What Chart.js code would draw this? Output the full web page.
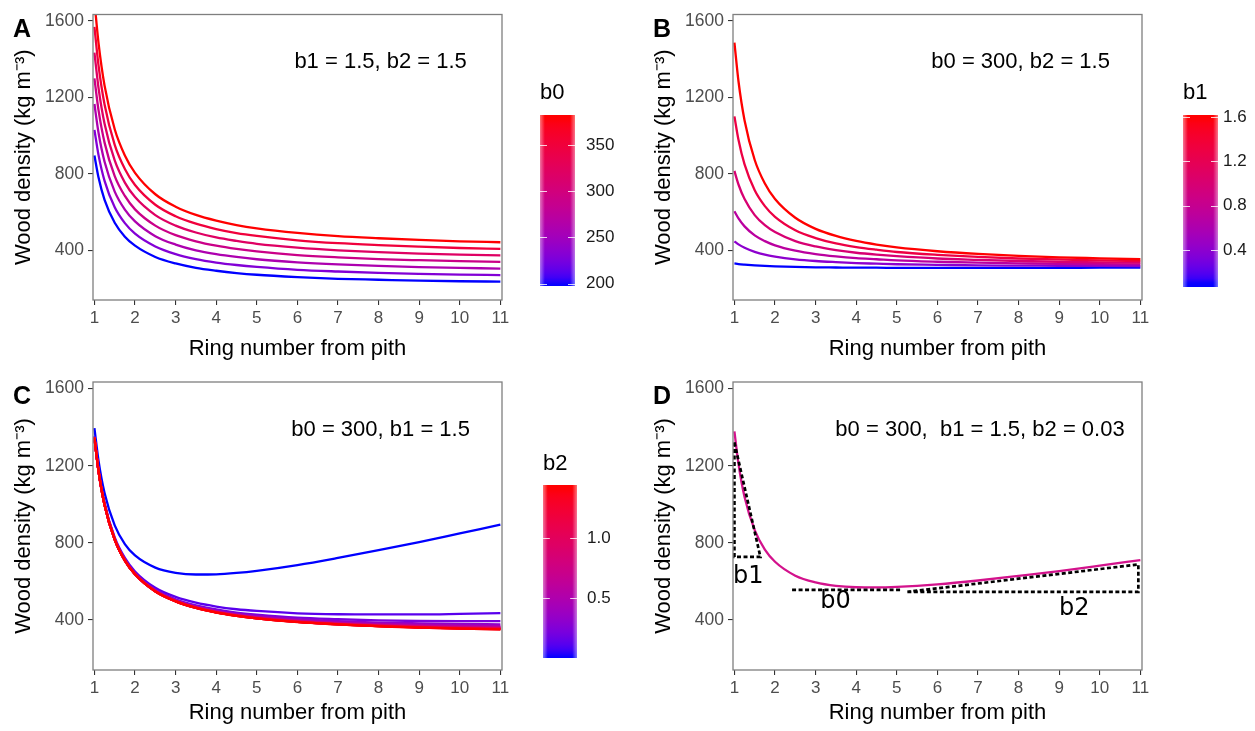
<!DOCTYPE html>
<html><head><meta charset="utf-8">
<script src="https://cdn.jsdelivr.net/npm/chart.js@4.4.0/dist/chart.umd.min.js"></script>
<style>
html,body{margin:0;padding:0;background:#fff;width:1255px;height:731px;overflow:hidden}
.p{position:absolute}
canvas{display:block}
</style></head><body>
<div class="p" style="left:0;top:0"><canvas id="cA" width="627" height="365"></canvas></div>
<div class="p" style="left:627px;top:0"><canvas id="cB" width="628" height="365"></canvas></div>
<div class="p" style="left:0;top:365px"><canvas id="cC" width="627" height="366"></canvas></div>
<div class="p" style="left:627px;top:365px"><canvas id="cD" width="628" height="366"></canvas></div>
<script>
// ---------- data ----------
const ringX = [1, 1.1, 1.25, 1.5, 1.75, 2, 2.5, 3, 3.5, 4, 4.5, 5, 6, 7, 8, 9, 10, 11];
const xTickValues = [1, 2, 3, 4, 5, 6, 7, 8, 9, 10, 11];
const yTickValues = [400, 800, 1200, 1600];

// Panel A: b1 = 1.5, b2 = 1.5, varying b0
const b0Levels = [200, 230, 260, 290, 320, 350, 380];
const densA_200 = [897, 783, 665, 545, 472, 425, 366, 332, 309, 294, 282, 273, 261, 252, 247, 242, 239, 237];
const densA_230 = [1031, 900, 764, 626, 543, 488, 421, 381, 355, 337, 324, 314, 299, 290, 283, 278, 274, 271];
const densA_260 = [1166, 1017, 864, 708, 614, 552, 475, 431, 401, 381, 366, 354, 338, 327, 319, 313, 309, 305];
const densA_290 = [1300, 1135, 964, 789, 685, 615, 530, 480, 448, 425, 408, 395, 376, 364, 355, 349, 344, 340];
const densA_320 = [1435, 1252, 1063, 871, 755, 679, 585, 530, 494, 468, 450, 435, 415, 401, 391, 384, 378, 374];
const densA_350 = [1569, 1369, 1163, 952, 826, 742, 639, 579, 540, 512, 491, 476, 453, 438, 428, 420, 413, 408];
const densA_380 = [1704, 1487, 1262, 1034, 897, 806, 694, 629, 586, 556, 533, 516, 492, 475, 464, 455, 448, 443];

// Panel B: b0 = 300, b2 = 1.5, varying b1
const b1Levels = [0.1, 0.4, 0.7, 1.0, 1.3, 1.6];
const densB_01 = [332, 329, 326, 322, 319, 317, 314, 312, 311, 310, 310, 309, 309, 309, 309, 309, 310, 310];
const densB_04 = [448, 432, 414, 393, 378, 368, 354, 345, 339, 334, 331, 328, 325, 322, 321, 320, 319, 318];
const densB_07 = [605, 568, 526, 479, 449, 427, 399, 381, 369, 360, 354, 348, 341, 336, 333, 330, 328, 327];
const densB_10 = [816, 745, 669, 585, 532, 496, 449, 421, 402, 388, 378, 370, 358, 351, 345, 341, 338, 336];
const densB_13 = [1101, 979, 850, 715, 632, 576, 506, 465, 437, 418, 404, 392, 377, 366, 358, 353, 348, 345];
const densB_16 = [1487, 1285, 1080, 873, 750, 669, 571, 513, 476, 450, 431, 416, 396, 382, 372, 364, 359, 354];

// Panel C: b0 = 300, b1 = 1.5, varying b2
const b2Levels = [0.02, 0.12, 0.22, 0.32, 0.42, 0.52, 0.62, 0.72, 0.82, 0.92, 1.02, 1.12, 1.22, 1.32, 1.42];
const densC_002 = [1395, 1228, 1059, 891, 794, 735, 672, 645, 636, 637, 644, 655, 685, 722, 762, 804, 849, 894];
const densC_012 = [1353, 1182, 1006, 828, 722, 652, 567, 520, 490, 470, 456, 447, 435, 430, 429, 429, 432, 436];
const densC_022 = [1349, 1178, 1002, 822, 715, 644, 558, 508, 476, 455, 439, 428, 412, 404, 398, 395, 394, 394];
const densC_032 = [1348, 1176, 1000, 820, 712, 641, 554, 504, 471, 449, 433, 421, 404, 394, 387, 383, 380, 378];
const densC_042 = [1347, 1176, 999, 819, 711, 640, 553, 502, 469, 446, 429, 417, 400, 388, 381, 376, 372, 370];
const densC_052 = [1346, 1175, 998, 818, 710, 639, 551, 500, 467, 444, 427, 415, 397, 385, 377, 372, 368, 365];
const densC_062 = [1346, 1175, 998, 818, 710, 638, 551, 499, 466, 443, 426, 413, 395, 383, 375, 369, 365, 362];
const densC_072 = [1346, 1175, 998, 818, 709, 638, 550, 499, 465, 442, 425, 412, 394, 381, 373, 367, 362, 359];
const densC_082 = [1346, 1174, 998, 817, 709, 638, 550, 498, 465, 441, 424, 411, 393, 380, 372, 365, 361, 357];
const densC_092 = [1346, 1174, 997, 817, 709, 637, 549, 498, 464, 441, 424, 410, 392, 379, 371, 364, 359, 356];
const densC_102 = [1346, 1174, 997, 817, 709, 637, 549, 498, 464, 440, 423, 410, 391, 379, 370, 363, 358, 355];
const densC_112 = [1345, 1174, 997, 817, 708, 637, 549, 497, 464, 440, 423, 409, 391, 378, 369, 362, 357, 354];
const densC_122 = [1345, 1174, 997, 817, 708, 637, 549, 497, 463, 440, 422, 409, 390, 377, 368, 362, 357, 353];
const densC_132 = [1345, 1174, 997, 817, 708, 637, 548, 497, 463, 440, 422, 409, 390, 377, 368, 361, 356, 352];
const densC_142 = [1345, 1174, 997, 817, 708, 637, 548, 497, 463, 439, 422, 409, 389, 377, 367, 361, 356, 352];

// Panel D: b0 = 300, b1 = 1.5, b2 = 0.03
const densD = [1378, 1210, 1038, 866, 765, 702, 630, 595, 577, 570, 569, 572, 585, 605, 629, 654, 682, 711];
const guideB1 = [[1, 1320], [1, 727], [1.64, 727], [1, 1320]];
const guideB0 = [[2.42, 556], [5.1, 556]];
const guideB2 = [[5.26, 546], [10.95, 546], [10.95, 688], [5.26, 546]];
const guideLabels = [['b1', 1.34, 625], ['b0', 3.49, 495], ['b2', 9.37, 457]];

// colour-bar ticks
const cbTicksA = [200, 250, 300, 350];
const cbTicksB = [0.4, 0.8, 1.2, 1.6];
const cbTicksC = [0.5, 1.0];

// ---------- helpers ----------
const FONT = '"Liberation Sans", Arial, Helvetica, sans-serif';
function toLin(c){c/=255;return c<=0.04045?c/12.92:Math.pow((c+0.055)/1.055,2.4);}
function fromLin(v){v=Math.max(0,Math.min(1,v));return 255*(v<=0.0031308?12.92*v:1.055*Math.pow(v,1/2.4)-0.055);}
function rgb2lab(c){const R=toLin(c[0]),G=toLin(c[1]),B=toLin(c[2]);
  const X=(0.4124*R+0.3576*G+0.1805*B)/0.95047,Y=0.2126*R+0.7152*G+0.0722*B,Z=(0.0193*R+0.1192*G+0.9505*B)/1.08883;
  const f=t=>t>0.008856?Math.cbrt(t):7.787*t+16/116;
  const fx=f(X),fy=f(Y),fz=f(Z);return [116*fy-16,500*(fx-fy),200*(fy-fz)];}
function lab2rgb(l){const fy=(l[0]+16)/116,fx=fy+l[1]/500,fz=fy-l[2]/200;
  const fi=t=>t>0.206893?t*t*t:(t-16/116)/7.787;
  const X=fi(fx)*0.95047,Y=fi(fy),Z=fi(fz)*1.08883;
  const R=3.2406*X-1.5372*Y-0.4986*Z,G=-0.9689*X+1.8758*Y+0.0415*Z,B=0.0557*X-0.2040*Y+1.0570*Z;
  return [fromLin(R),fromLin(G),fromLin(B)].map(Math.round);}
const LOW=rgb2lab([0,0,255]),HIGH=rgb2lab([255,0,0]);
function gradColour(t){t=Math.max(0,Math.min(1,t));const c=lab2rgb(LOW.map((v,i)=>v+(HIGH[i]-v)*t));return 'rgb('+c.join(',')+')';}

const decor = {
  id:'decor',
  afterDraw(chart, args, o){
    const ctx=chart.ctx, ca=chart.chartArea, sx=chart.scales.x, sy=chart.scales.y;
    ctx.save();
    ctx.strokeStyle='#7f7f7f'; ctx.lineWidth=1.3;
    ctx.strokeRect(ca.left, ca.top, ca.right-ca.left, ca.bottom-ca.top);
    ctx.fillStyle='#000'; ctx.font='bold 25px '+FONT; ctx.textAlign='left'; ctx.textBaseline='alphabetic';
    ctx.fillText(o.letter, ca.left-80, ca.top+22);
    ctx.font='22px '+FONT; ctx.textAlign='center'; ctx.textBaseline='middle';
    ctx.fillText(o.note, sx.getPixelForValue(o.noteAt[0]), sy.getPixelForValue(o.noteAt[1]));
    if (o.guideLabels){
      ctx.font='24px "DejaVu Sans", sans-serif';
      o.guideLabels.forEach(g=>ctx.fillText(g[0], sx.getPixelForValue(g[1]), sy.getPixelForValue(g[2])));
    }
    const cb=o.colorbar;
    if (cb){
      const pos=v=>cb.y+cb.h-(v-cb.lo)/(cb.hi-cb.lo)*cb.h;
      const g=ctx.createLinearGradient(0,cb.y+cb.h,0,cb.y);
      for(let i=0;i<=40;i++){const v=cb.lo+(cb.hi-cb.lo)*i/40;g.addColorStop(i/40,gradColour((v-cb.dmin)/(cb.dmax-cb.dmin)));}
      ctx.fillStyle=g; ctx.fillRect(cb.x,cb.y,cb.w,cb.h);
      const e=ctx.createLinearGradient(cb.x,0,cb.x+cb.w,0);
      e.addColorStop(0,'rgba(255,255,255,0.45)');e.addColorStop(0.14,'rgba(255,255,255,0)');
      e.addColorStop(0.86,'rgba(255,255,255,0)');e.addColorStop(1,'rgba(255,255,255,0.45)');
      ctx.fillStyle=e; ctx.fillRect(cb.x,cb.y,cb.w,cb.h);
      ctx.strokeStyle='rgba(255,255,255,0.8)'; ctx.lineWidth=1;
      ctx.font='17px '+FONT; ctx.textAlign='left'; ctx.textBaseline='middle';
      cb.ticks.forEach(t=>{
        const y=Math.round(pos(t))+0.5;
        ctx.beginPath();ctx.moveTo(cb.x,y);ctx.lineTo(cb.x+cb.w/5,y);ctx.moveTo(cb.x+cb.w*4/5,y);ctx.lineTo(cb.x+cb.w,y);ctx.stroke();
        ctx.fillStyle='#1a1a1a'; ctx.fillText(cb.fmt(t), cb.labelX, pos(t));
      });
      ctx.fillStyle='#000'; ctx.font='22px '+FONT;
      ctx.fillText(cb.title, cb.x, cb.titleY);
    }
    ctx.restore();
  }
};

function buildPanel(id, P){
  const n=P.series.length;
  const datasets=P.series.map((s,i)=>({
    data: ringX.map((x,j)=>({x:x,y:s[j]})),
    borderColor: P.colours[i], borderWidth: 2.3, pointRadius: 0, fill:false,
    cubicInterpolationMode:'monotone', order: 10+n-i
  }));
  (P.guides||[]).forEach(gd=>datasets.push({
    data: gd.map(p=>({x:p[0],y:p[1]})), borderColor:'#000', borderWidth:2.7, borderDash:[4,2.5],
    pointRadius:0, tension:0, fill:false, order:0
  }));
  const L=P.layout;
  new Chart(document.getElementById(id),{
    type:'line', data:{datasets},
    plugins:[decor],
    options:{
      responsive:false, animation:false, devicePixelRatio:1,
      layout:{padding:{left:L.padLeft,right:L.padRight,top:L.padTop,bottom:0}},
      plugins:{legend:{display:false},tooltip:{enabled:false},
        decor:{letter:P.letter,note:P.note,noteAt:P.noteAt,colorbar:P.colorbar,guideLabels:P.guideLabels}},
      scales:{
        x:{type:'linear',min:0.965,max:11.04,
          afterBuildTicks:s=>{s.ticks=xTickValues.map(v=>({value:v}));},
          afterFit:s=>{s.height=L.xHeight;},
          ticks:{autoSkip:false,maxRotation:0,padding:3,color:'#4d4d4d',font:{family:FONT,size:17},callback:v=>String(v)},
          grid:{drawOnChartArea:false,drawTicks:true,tickLength:5,color:'#333333',lineWidth:1.1},
          border:{display:false},
          title:{display:true,text:'Ring number from pith',color:'#000',font:{family:FONT,size:22},padding:{top:0,bottom:L.xTitlePad}}
        },
        y:{type:'linear',min:141,max:1634,
          afterBuildTicks:s=>{s.ticks=yTickValues.map(v=>({value:v}));},
          afterFit:s=>{s.width=93;},
          ticks:{autoSkip:false,padding:4,color:'#4d4d4d',font:{family:FONT,size:17.5},callback:v=>String(v)},
          grid:{drawOnChartArea:false,drawTicks:true,tickLength:5,color:'#333333',lineWidth:1.1},
          border:{display:false},
          title:{display:true,text:'Wood density (kg m\u207B\u00B3)',color:'#000',font:{family:FONT,size:22},padding:{top:10.8,bottom:0}}
        }
      }
    }
  });
}

const layoutTopLeft={padLeft:0,padRight:125,padTop:11,xHeight:65,xTitlePad:2.8};
const layoutTopRight={padLeft:13,padRight:113,padTop:11,xHeight:65,xTitlePad:2.8};
const layoutBotLeft={padLeft:0,padRight:125,padTop:17,xHeight:61,xTitlePad:4.8};
const layoutBotRight={padLeft:13,padRight:113,padTop:17,xHeight:61,xTitlePad:4.8};

buildPanel('cA',{
  series:[densA_200,densA_230,densA_260,densA_290,densA_320,densA_350,densA_380],
  colours:b0Levels.map(v=>gradColour((v-200)/180)),
  letter:'A', note:'b1 = 1.5, b2 = 1.5', noteAt:[8.05,1385], layout:layoutTopLeft,
  colorbar:{x:540,y:115,w:35,h:171,lo:197.3,hi:382.5,dmin:200,dmax:380,ticks:cbTicksA,fmt:v=>String(v),labelX:586,title:'b0',titleY:93}
});
buildPanel('cB',{
  series:[densB_01,densB_04,densB_07,densB_10,densB_13,densB_16],
  colours:b1Levels.map(v=>gradColour((v-0.1)/1.5)),
  letter:'B', note:'b0 = 300, b2 = 1.5', noteAt:[8.05,1385], layout:layoutTopRight,
  colorbar:{x:556,y:115,w:35,h:172,lo:0.066,hi:1.62,dmin:0.1,dmax:1.6,ticks:cbTicksB,fmt:v=>v.toFixed(1),labelX:596,title:'b1',titleY:93}
});
buildPanel('cC',{
  series:[densC_002,densC_012,densC_022,densC_032,densC_042,densC_052,densC_062,densC_072,densC_082,densC_092,densC_102,densC_112,densC_122,densC_132,densC_142],
  colours:b2Levels.map(v=>gradColour((v-0.02)/1.4)),
  letter:'C', note:'b0 = 300, b1 = 1.5', noteAt:[8.05,1385], layout:layoutBotLeft,
  colorbar:{x:543,y:120,w:34,h:173,lo:0.0,hi:1.44,dmin:0.02,dmax:1.42,ticks:cbTicksC,fmt:v=>v.toFixed(1),labelX:587,title:'b2',titleY:99}
});
buildPanel('cD',{
  series:[densD], colours:['#d3128c'],
  guides:[guideB1,guideB0,guideB2], guideLabels:guideLabels,
  letter:'D', note:'b0 = 300,  b1 = 1.5, b2 = 0.03', noteAt:[7.05,1385], layout:layoutBotRight
});
</script>
</body></html>
